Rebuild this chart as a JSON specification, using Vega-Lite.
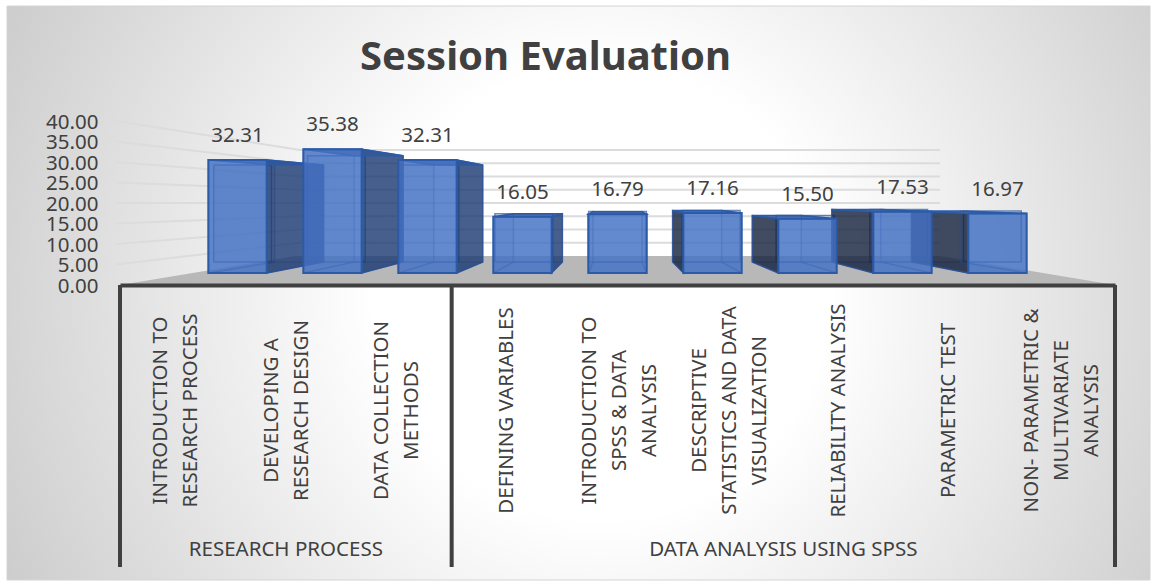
{"$schema":"https://vega.github.io/schema/vega-lite/v6.json","width":995,"height":164,"autosize":{"type":"none"},"padding":{"left":120,"top":121,"right":41,"bottom":296},"background":"white",
"title":{"text":"Session Evaluation","anchor":"middle","dx":-72,"offset":-72,"fontSize":40,"fontWeight":"bold","font":"Noto Sans","color":"#404040"},
"config":{"view":{"stroke":null},"font":"Noto Sans"},
"datasets":{"bars":[
{"label":"INTRODUCTION TO\nRESEARCH PROCESS","group":"RESEARCH PROCESS","order":1,"value":32.31},
{"label":"DEVELOPING A\nRESEARCH DESIGN","group":"RESEARCH PROCESS","order":2,"value":35.38},
{"label":"DATA COLLECTION\nMETHODS","group":"RESEARCH PROCESS","order":3,"value":32.31},
{"label":"DEFINING VARIABLES","group":"DATA ANALYSIS USING SPSS","order":4,"value":16.05},
{"label":"INTRODUCTION TO\nSPSS & DATA\nANALYSIS","group":"DATA ANALYSIS USING SPSS","order":5,"value":16.79},
{"label":"DESCRIPTIVE\nSTATISTICS AND DATA\nVISUALIZATION","group":"DATA ANALYSIS USING SPSS","order":6,"value":17.16},
{"label":"RELIABILITY ANALYSIS","group":"DATA ANALYSIS USING SPSS","order":7,"value":15.50},
{"label":"PARAMETRIC TEST","group":"DATA ANALYSIS USING SPSS","order":8,"value":17.53},
{"label":"NON- PARAMETRIC &\nMULTIVARIATE\nANALYSIS","group":"DATA ANALYSIS USING SPSS","order":9,"value":16.97}],
"ticks":[{"tick":5},{"tick":10},{"tick":15},{"tick":20},{"tick":25},{"tick":30},{"tick":35},{"tick":40}],
"floor":[{"u":0,"v":0},{"u":175,"v":7.07},{"u":820,"v":7.07},{"u":995,"v":0}]},
"resolve":{"scale":{"x":"independent","y":"independent"},"axis":{"x":"independent","y":"independent"}},
"layer":[
{"data":{"values":[{"panel":"background"}]},"mark":{"type":"rect","stroke":"#d4d4d4","strokeWidth":1,"fill":{"gradient":"radial","x1":0.52,"y1":0.5,"x2":0.52,"y2":0.5,"r1":0,"r2":0.71,"stops":[{"offset":0,"color":"#ffffff"},{"offset":0.28,"color":"#ffffff"},{"offset":1,"color":"#bbbbbb"}]}},"encoding":{"x":{"value":-113},"x2":{"value":1030},"y":{"value":-115},"y2":{"value":459}}},

{"data":{"name":"ticks"},"transform":[{"calculate":"[0,1,2]","as":"p"},{"flatten":["p"]},{"calculate":"datum.p==0?-4:(datum.p==1?180:820)","as":"u"},{"calculate":"datum.p==0?datum.tick:(29+2.65*datum.tick)/4.1","as":"v"}],"mark":{"type":"line","stroke":"#dcdcdc","strokeWidth":2,"clip":false},"encoding":{"x":{"field":"u","type":"quantitative","scale":{"domain":[0,995],"nice":false,"zero":false},"axis":null},"y":{"field":"v","type":"quantitative","scale":{"domain":[0,40],"nice":false},"axis":null},"detail":{"field":"tick"}}},

{"data":{"name":"floor"},"mark":{"type":"area","fill":"#b8b8b8"},"encoding":{"x":{"field":"u","type":"quantitative","scale":{"domain":[0,995],"nice":false,"zero":false},"axis":null},"y":{"field":"v","type":"quantitative","scale":{"domain":[0,40],"nice":false},"axis":{"values":[0,5,10,15,20,25,30,35,40],"format":".2f","title":null,"domain":false,"ticks":false,"grid":false,"labelPadding":22,"labelFontSize":20.5,"labelColor":"#404040","labelFont":"Noto Sans","labelOverlap":false,"labelBound":false,"labelFlush":false,"labelOffset":1,"zindex":1}},"y2":{"datum":0}}},

{"data":{"name":"bars"},"mark":{"type":"bar","fill":"#4472c4","fillOpacity":0.1,"stroke":"#2f5597","strokeOpacity":0.7,"strokeWidth":1.5},"encoding":{"x":{"field":"label","type":"nominal","sort":null,"scale":{"type":"band","paddingInner":0.384,"paddingOuter":1.942},"axis":null},"y":{"field":"value","type":"quantitative","stack":null,"scale":{"domain":[-7.67,47],"nice":false},"axis":null}}},

{"data":{"name":"bars"},"transform":[{"calculate":"[0,1]","as":"d"},{"flatten":["d"]},{"calculate":"497.5+(datum.order-5)*(datum.d==0?95:79.6)","as":"c"},{"calculate":"datum.d==0?29:24.5","as":"hw"},{"calculate":"datum.c-datum.hw","as":"u0"},{"calculate":"datum.c+datum.hw","as":"u1"},{"calculate":"datum.d==0?12/4.1:23/4.1","as":"vbot"}],"mark":{"type":"area","orient":"horizontal","fill":"#4472c4","fillOpacity":0.12,"stroke":"#2f5597","strokeOpacity":0.55,"strokeWidth":1},"encoding":{"y":{"field":"vbot","type":"quantitative","scale":{"domain":[0,40],"nice":false},"axis":null},"x":{"field":"u0","type":"quantitative","scale":{"domain":[0,995],"nice":false,"zero":false},"axis":null},"x2":{"field":"u1"},"detail":{"field":"order"}}},

{"data":{"name":"bars"},"transform":[{"calculate":"[0,1]","as":"d"},{"flatten":["d"]},{"calculate":"[-1,1]","as":"side"},{"flatten":["side"]},{"calculate":"497.5+(datum.order-5)*(datum.d==0?95:79.6)+datum.side*(datum.d==0?29:24.5)","as":"u"},{"calculate":"datum.d==0?(12+3.5*datum.value)/4.1:(23+3*datum.value)/4.1","as":"vtop"},{"calculate":"datum.d==0?12/4.1:23/4.1","as":"vbot"},{"calculate":"datum.order*10+datum.side","as":"face"},{"calculate":"(datum.order<5&&datum.side==1)||(datum.order>5&&datum.side==-1)","as":"near"}],"mark":{"type":"area","stroke":"#2b5094","strokeWidth":1.5},"encoding":{"x":{"field":"u","type":"quantitative","scale":{"domain":[0,995],"nice":false,"zero":false},"axis":null},"y":{"field":"vtop","type":"quantitative","scale":{"domain":[0,40],"nice":false},"axis":null},"y2":{"field":"vbot"},"detail":{"field":"face"},"fill":{"condition":{"test":"datum.near&&datum.order<5","value":"#1f3c73"},"value":"#17233f"},"fillOpacity":{"condition":{"test":"datum.near","value":0.82},"value":0.05},"strokeOpacity":{"condition":{"test":"datum.near","value":0.9},"value":0.4}}},

{"data":{"name":"bars"},"transform":[{"calculate":"[0,1]","as":"d"},{"flatten":["d"]},{"calculate":"497.5+(datum.order-5)*(datum.d==0?95:79.6)","as":"c"},{"calculate":"datum.d==0?29:24.5","as":"hw"},{"calculate":"datum.c-datum.hw","as":"u0"},{"calculate":"datum.c+datum.hw","as":"u1"},{"calculate":"datum.d==0?(12+3.5*datum.value)/4.1:(23+3*datum.value)/4.1","as":"vtop"}],"mark":{"type":"area","orient":"horizontal","fill":"#2f5597","fillOpacity":0.8,"stroke":"#2b5ba8","strokeWidth":1.5},"encoding":{"y":{"field":"vtop","type":"quantitative","scale":{"domain":[0,40],"nice":false},"axis":null},"x":{"field":"u0","type":"quantitative","scale":{"domain":[0,995],"nice":false,"zero":false},"axis":null},"x2":{"field":"u1"},"detail":{"field":"order"}}},

{"data":{"name":"bars"},"mark":{"type":"bar","fill":"#4472c4","fillOpacity":0.82,"stroke":"#2b5ba8","strokeWidth":2},"encoding":{"x":{"field":"label","type":"nominal","sort":null,"scale":{"type":"band","paddingInner":0.385,"paddingOuter":0.93},"axis":null},"y":{"field":"value","type":"quantitative","stack":null,"scale":{"domain":[-3.43,43.43],"nice":false},"axis":null}}},

{"data":{"name":"bars"},"mark":{"type":"text","fontSize":20.5,"color":"#404040","yOffset":-24,"baseline":"middle","font":"Noto Sans"},"encoding":{"x":{"field":"label","type":"nominal","sort":null,"scale":{"type":"band","paddingInner":0.385,"paddingOuter":0.93},"axis":null},"y":{"field":"value","type":"quantitative","stack":null,"scale":{"domain":[-3.43,43.43],"nice":false},"axis":null},"text":{"field":"value","type":"quantitative","format":".2f"}}},

{"data":{"name":"bars"},"mark":{"type":"rule","stroke":"#404040","strokeWidth":4,"y2Offset":282},"encoding":{"x":{"field":"label","type":"nominal","sort":null,"bandPosition":0,"scale":{"type":"band","paddingInner":0,"paddingOuter":0},"axis":{"title":null,"orient":"bottom","ticks":false,"domain":true,"domainColor":"#404040","domainWidth":4,"labelAngle":-90,"labelAlign":"center","labelBaseline":"middle","labelPadding":125,"labelFontSize":20.5,"labelColor":"#404040","labelFont":"Noto Sans","labelLineHeight":30,"labelLimit":400,"labelOverlap":false,"labelBound":false,"labelFlush":false,"labelOffset":{"expr":"-14*(length(split(datum.label,'\\n'))-1)"},"labelExpr":"split(datum.label,'\\n')","zindex":1}},"y":{"datum":0,"scale":{"domain":[0,40],"nice":false},"axis":null},"y2":{"datum":0},"opacity":{"condition":{"test":"datum.order==1||datum.order==4","value":1},"value":0}}},

{"data":{"name":"bars"},"mark":{"type":"rule","stroke":"#404040","strokeWidth":4,"y2Offset":282},"encoding":{"x":{"field":"label","type":"nominal","sort":null,"bandPosition":1,"scale":{"type":"band","paddingInner":0,"paddingOuter":0},"axis":null},"y":{"datum":0,"scale":{"domain":[0,40],"nice":false},"axis":null},"y2":{"datum":0},"opacity":{"condition":{"test":"datum.order==9","value":1},"value":0}}},

{"data":{"name":"bars"},"transform":[{"aggregate":[{"op":"mean","field":"order","as":"mid"}],"groupby":["group"]},{"calculate":"(datum.mid-0.5)*995/9","as":"u"}],"mark":{"type":"text","fontSize":20.5,"color":"#404040","yOffset":265,"baseline":"middle","font":"Noto Sans"},"encoding":{"x":{"field":"u","type":"quantitative","scale":{"domain":[0,995],"nice":false,"zero":false},"axis":null},"y":{"datum":0,"scale":{"domain":[0,40],"nice":false},"axis":null},"text":{"field":"group"}}}
]}
